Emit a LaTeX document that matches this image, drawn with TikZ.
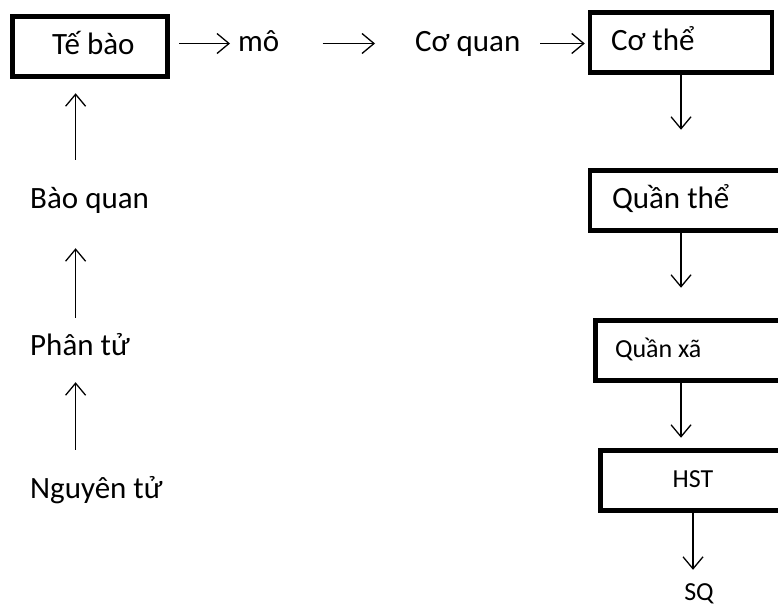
\documentclass[tikz,border=0pt]{standalone}
\usepackage{fontspec}
\setmainfont{Carlito}
\usetikzlibrary{positioning, arrows.meta}

\tikzset{
  level/.style={font=\fontsize{31}{36}\selectfont, inner sep=2pt, text height=23pt, text depth=8pt},
  small/.style={font=\fontsize{26}{31}\selectfont, text height=19.5pt, text depth=6.5pt},
  box/.style={level, draw, line width=4.5pt, minimum height=60pt},
  up/.style={->, line width=1.3pt, >={Straight Barb[length=12pt,width=20pt]}},
}

\begin{document}
\begin{tikzpicture}[x=1pt, y=-1pt]
  \clip (0,0) rectangle (778,606);
  \node[box, text width=89pt, inner xsep=33pt, align=flush right] (tb) at (90,46.5) {Tế bào};
  \node[level, anchor=base west] (mo) at (236,51) {mô};
  \node[level, anchor=base west] (cq) at (413,51) {Cơ quan};
  \node[box, text width=140pt, inner xsep=21pt, align=flush left] (cthe) at (681,42.5) {Cơ thể};
  \node[box, text width=166pt, inner xsep=22pt, align=flush left] (qthe) at (695,200.5) {Quần thể};
  \node[box, small, text width=170pt, inner xsep=19.5pt, align=flush left] (qxa) at (700,350.5) {Quần xã};
  \node[box, small, minimum width=185pt] (hst) at (693,480.5) {HST};
  \node[level, small, anchor=base] (sq) at (699,600) {SQ};
  % left column
  \node[level, anchor=base west] (bq) at (28,208) {Bào quan};
  \node[level, anchor=base west] (pt) at (28,355) {Phân tử};
  \node[level, anchor=base west] (nt) at (28,498) {Nguyên tử};

  \path[up]
  (tb.east |- mo.west) edge[shorten <=9.5pt, shorten >=6pt] (mo.west)
    (mo.east) edge[shorten <=41pt, shorten >=38pt] (cq.west)
    (cq.east) edge[shorten <=17.5pt, shorten >=3pt] (cq.east -| cthe.west)
  (cthe.south) edge[shorten >=38.5pt] (cthe.south |- qthe.north)
    (cthe.south |- qthe.south) edge[shorten >=30.5pt] (cthe.south |- qxa.north)
    (cthe.south |- qxa.south) edge[shorten >=10.5pt] (cthe.south |- hst.north)
    (hst.south) edge[shorten >=8.5pt] (hst.south |- sq.north)
  ([xshift=-14pt]bq.north) edge[shorten <=23pt, shorten >=14.5pt] ([xshift=-14pt]bq.north |- tb.south)
    ([xshift=-14pt]bq.north |- pt.north) edge[shorten <=12pt, shorten >=30pt] ([xshift=-14pt]bq.north |- bq.south)
    ([xshift=-14pt]bq.north |- nt.north) edge[shorten <=23pt, shorten >=17pt] ([xshift=-14pt]bq.north |- pt.south);
\end{tikzpicture}
\end{document}
